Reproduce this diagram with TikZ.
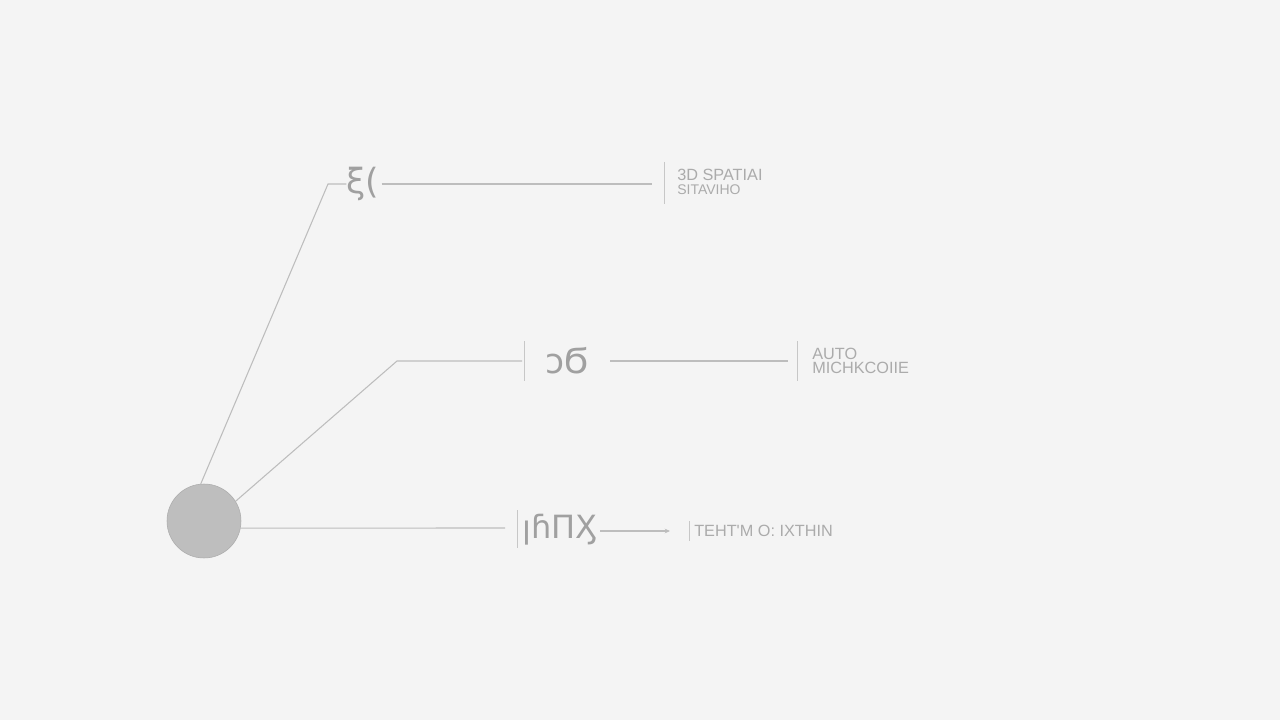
\documentclass[tikz,border=0pt]{standalone}
\usepackage{fontspec}
\setmainfont{DejaVu Sans}
\newfontfamily\labelfont{Liberation Sans}
\usetikzlibrary{arrows.meta}
\definecolor{bgcol}{HTML}{F4F4F4}
\definecolor{wirecol}{HTML}{BDBDBD}
\definecolor{glyphcol}{HTML}{A0A0A0}
\definecolor{textcol}{HTML}{ABABAB}
\definecolor{hubcol}{HTML}{BEBEBE}
\tikzset{
  wire/.style={draw=wirecol, line width=0.8pt},
  tick/.style={draw=wirecol!85, line width=0.7pt},
  glyph/.style={text=glyphcol, inner sep=0pt, font=\fontsize{26}{28}\selectfont},
  tag/.style={text=textcol, inner sep=0pt, anchor=west, align=left,
    font=\labelfont\fontsize{12.2}{12.5}\selectfont}
}
\begin{document}
\begin{tikzpicture}[x=0.75pt,y=-0.75pt]
            \fill[bgcol] (0,0) rectangle (1280,720);
            \useasboundingbox (0,0) rectangle (1280,720);
            % hub
            \node[circle, fill=hubcol, draw=hubcol!90!black, line width=0.4pt, minimum size=55.5pt, inner sep=0pt] (hub) at (204,521) {};
            % top branch
            \coordinate (bendA) at (328,184);
            \coordinate (endA) at (652,184);
            \node[glyph] (glyphA) at (363,184) {ξ(};
            \draw[wire] (hub.95) -- (bendA) -- (glyphA.west);
            \draw[wire] (glyphA.east) ++(2,0) coordinate (startA) -- (endA);
            \coordinate (tickAt) at (664,162); \coordinate (tickAb) at (664,204);
            \draw[tick] (tickAt) -- (tickAb);
            \node[tag] (tagA) at (677,182) {3D SPATIAI\\[-2pt]{\fontsize{10.5}{11}\selectfont SITAVIHO}};
            % middle branch
            \coordinate (bendB) at (397,361);
            \coordinate (tickBt) at (524,341); \coordinate (tickBb) at (524,381);
            \draw[wire] (hub.32) -- (bendB) -- (522,361) coordinate (joinB);
            \draw[tick] (tickBt) -- (tickBb);
            \node[glyph] (glyphB) at (567,361) {ɔϬ};
            \coordinate (endB) at (788,361);
            \draw[wire] (610,361) coordinate (startB) -- (endB);
            \coordinate (tickCt) at (797,341); \coordinate (tickCb) at (797,381);
            \draw[tick] (tickCt) -- (tickCb);
            \node[tag] (tagB) at (812,361) {AUTO\\[-2pt]MICHKCOIIE};
            % bottom branch
            \coordinate (tickDt) at (517,510); \coordinate (tickDb) at (517,548);
            \draw[wire] (hub.-11) -- (505,528) coordinate (joinC);
            \draw[tick] (tickDt) -- (tickDb);
            \node[glyph, font=\fontsize{24}{26}\selectfont] (glyphC) at (560,530) {ꞁɦΠӼ};
            \coordinate (arrowC) at (670,531);
            \draw[wire, -{Stealth[length=4pt,width=3.5pt]}] (600,531) coordinate (startC) -- (arrowC);
            \coordinate (tickEt) at (689,521); \coordinate (tickEb) at (689,541);
            \draw[tick] (tickEt) -- (tickEb);
            \node[tag] (tagC) at (694,531) {TEHT'M O: IXTHIN};
        \end{tikzpicture}
\end{document}
